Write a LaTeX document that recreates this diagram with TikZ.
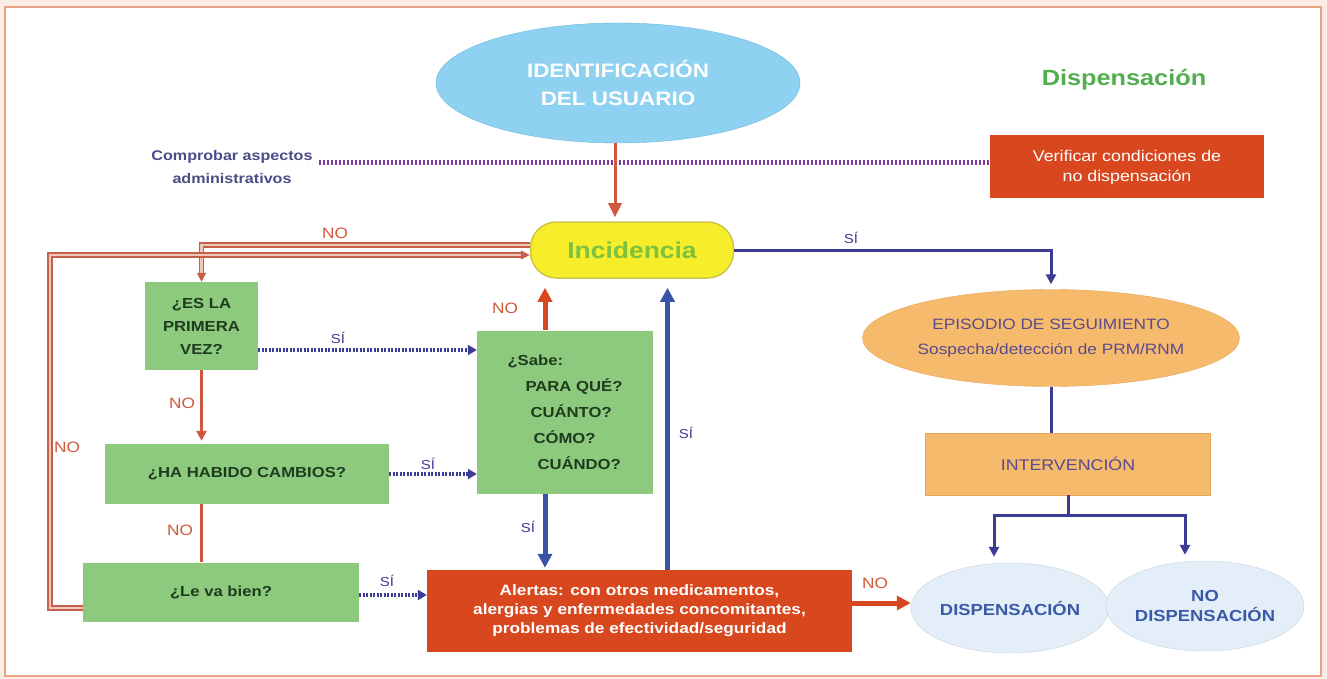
\documentclass[tikz,border=0pt]{standalone}
\usepackage{fontspec}
\setmainfont{Liberation Sans}[FakeStretch=1.15]
\usetikzlibrary{arrows.meta,shapes.geometric}

\definecolor{peach}{HTML}{FBEDE5}
\definecolor{frameor}{HTML}{E9A283}
\definecolor{skyid}{HTML}{8ED1F0}
\definecolor{skyidln}{HTML}{6DB5DD}
\definecolor{boxgreen}{HTML}{8DCA7E}
\definecolor{txtgreen}{HTML}{1E3B1E}
\definecolor{boxred}{HTML}{D9471F}
\definecolor{pillyel}{HTML}{F6EE2B}
\definecolor{pillln}{HTML}{CFC545}
\definecolor{titgreen}{HTML}{52AE4C}
\definecolor{incgreen}{HTML}{7DC23F}
\definecolor{boxorange}{HTML}{F6BA6C}
\definecolor{orln}{HTML}{E6A55C}
\definecolor{palesky}{HTML}{E3EEF8}
\definecolor{paleln}{HTML}{C3D4E6}
\definecolor{navy}{HTML}{3C3C96}
\definecolor{purpl}{HTML}{7D3A9C}
\definecolor{linered}{HTML}{D0583A}
\definecolor{loopred}{HTML}{C4604A}
\definecolor{loopfill}{HTML}{F2C6B8}
\definecolor{thickblue}{HTML}{3A52A8}
\definecolor{txtpurple}{HTML}{5A4A8E}
\definecolor{txtslate}{HTML}{4C4C88}
\definecolor{txtblue}{HTML}{3A5AA8}

\tikzset{
  greenbox/.style={rectangle, fill=boxgreen, text=txtgreen, inner sep=0pt,
    font=\fontsize{14.5}{23}\selectfont\bfseries, align=center},
  redbox/.style={rectangle, fill=boxred, text=white, inner sep=0pt, align=center},
  orbox/.style={rectangle, fill=boxorange, draw=orln, text=txtpurple, inner sep=0pt,
    font=\fontsize{15.5}{20}\selectfont},
  paleell/.style={ellipse, fill=palesky, draw=paleln, text=txtblue, inner sep=0pt,
    font=\fontsize{16}{20}\selectfont\bfseries, align=center},
  nolbl/.style={text=linered, font=\fontsize{15}{15}\selectfont},
  silbl/.style={text=navy, font=\fontsize{13}{13}\selectfont},
  dotarrow/.style={navy, line width=3.5pt, dash pattern=on 2pt off 1.5pt,
    -{Triangle[length=9pt,width=10pt]}},
  redline/.style={linered, line width=2.5pt},
  loopline/.style={draw=loopred, double=loopfill, double distance=2.5pt, line width=1.5pt},
  navyline/.style={navy, line width=3pt},
  thickarrow/.style={line width=5pt, -{Triangle[length=14pt,width=14pt]}}
}

\begin{document}
\begin{tikzpicture}[x=1pt,y=-1pt]
\useasboundingbox (0,0) rectangle (1327,679);

%Background and frame
\fill[peach] (0,0) rectangle (1327,679);
\draw[frameor, line width=2pt, fill=white] (5,7) rectangle (1321,676);

%Shape: Ellipse
\node[ellipse, fill=skyid, draw=skyidln, text=white, minimum width=364pt, minimum height=120pt,
  inner sep=0pt, align=center, font=\fontsize{19.5}{28}\selectfont\bfseries] (idusr) at (618,83)
  {IDENTIFICACIÓN\\DEL USUARIO};
% Text Node
\node[text=titgreen, font=\fontsize{22}{22}\selectfont\bfseries] (titulo) at (1124,80) {Dispensación};
% Text Node
\node[text=txtslate, align=center, inner sep=6pt, font=\fontsize{14}{23}\selectfont\bfseries] (comprobar) at (232,167)
  {Comprobar aspectos\\administrativos};
%Shape: Rectangle
\node[redbox, minimum width=274pt, minimum height=63pt, font=\fontsize{15.5}{20}\selectfont] (verif) at (1127,167)
  {Verificar condiciones de\\no dispensación};

%Shape: Rounded Rectangle
\node[rectangle, rounded corners=26pt, fill=pillyel, draw=pillln, line width=1.5pt, text=incgreen,
  minimum width=203pt, minimum height=56pt, inner sep=0pt, font=\fontsize{23}{23}\selectfont\bfseries]
  (incid) at (632,250) {Incidencia};

%Shape: Rectangle
\node[greenbox, minimum width=113pt, minimum height=88pt] (primera) at (201.5,326) {¿ES LA\\PRIMERA\\VEZ?};
%Shape: Rectangle
\node[greenbox, minimum width=284pt, minimum height=60pt] (cambios) at (247,474) {¿HA HABIDO CAMBIOS?};
%Shape: Rectangle
\node[greenbox, minimum width=276pt, minimum height=59pt] (bien) at (221,592) {¿Le va bien?};
%Shape: Rectangle
\node[greenbox, minimum width=176pt, minimum height=163pt, align=left,
  font=\fontsize{14.5}{26}\selectfont\bfseries] (sabe) at (565,412)
  {¿Sabe:\\\hspace*{18pt}PARA QUÉ?\\\hspace*{23pt}CUÁNTO?\\\hspace*{26pt}CÓMO?\\\hspace*{30pt}CUÁNDO?};
%Shape: Rectangle
\node[redbox, minimum width=425pt, minimum height=82pt, font=\fontsize{15}{19}\selectfont\bfseries] (alertas) at (639.5,611)
  {Alertas: con otros medicamentos,\\alergias y enfermedades concomitantes,\\problemas de efectividad/seguridad};

%Shape: Ellipse
\node[ellipse, fill=boxorange, draw=orln, text=txtpurple, minimum width=326pt, minimum height=97pt,
  inner sep=0pt, align=center, font=\fontsize{15}{25}\selectfont] (episodio) at (1051,338)
  {EPISODIO DE SEGUIMIENTO\\Sospecha/detección de PRM/RNM};
%Shape: Rectangle
\node[orbox, minimum width=285pt, minimum height=62pt] (interv) at (1068,464) {INTERVENCIÓN};
%Shape: Ellipse
\node[paleell, minimum width=190pt, minimum height=90pt] (dispn) at (1010,608) {DISPENSACIÓN};
%Shape: Ellipse
\node[paleell, minimum width=187pt, minimum height=90pt] (nodisp) at (1205,606) {NO\\DISPENSACIÓN};

%Straight Lines
\draw[purpl, line width=5pt, dash pattern=on 2.5pt off 1.5pt] ([yshift=4pt]comprobar.east) -- ([yshift=4pt]verif.west);
\draw[linered, line width=3pt, -{Triangle[length=14pt,width=13pt]}, shorten >=4pt]
  ([xshift=-3pt]idusr.south) -- ([xshift=-3pt]idusr.south |- incid.north);

%Straight Lines
\draw[navyline, -{Triangle[length=10pt,width=10pt]}, shorten >=5pt] (incid.east) -| (episodio.north);
\draw[navyline] (episodio.south) -- (episodio.south |- interv.north);
\draw[navyline] (interv.south) -- ++(0,20) coordinate (brnch);
\draw[navyline, -{Triangle[length=10pt,width=10pt]}, shorten >=6pt] (brnch) -| ([xshift=-16pt]dispn.north);
\draw[navyline, -{Triangle[length=10pt,width=10pt]}, shorten >=6pt] (brnch) -| ([xshift=-20pt]nodisp.north);

%Straight Lines
\draw[loopline, -{Triangle[length=9pt,width=9pt]}] ([yshift=5pt]incid.west) -| (primera.north);
\draw[loopline, -{Triangle[length=9pt,width=9pt]}] ([yshift=-16pt]bien.west) -- ++(-33,0) |- ([yshift=-5pt]incid.west);
\draw[redline, -{Triangle[length=10pt,width=10pt]}, shorten >=3pt] (primera.south) -- (primera.south |- cambios.north);
\draw[redline] (primera.south |- cambios.south) -- (primera.south |- bien.north);

%Straight Lines
\draw[dotarrow] ([yshift=-24pt]primera.east) -- ([yshift=-24pt]primera.east -| sabe.west);
\draw[dotarrow] (cambios.east) -- (cambios.east -| sabe.west);
\draw[dotarrow] ([yshift=-3pt]bien.east) -- ([yshift=-3pt]bien.east -| alertas.west);

%Straight Lines
\draw[thickarrow, boxred, shorten >=9pt] ([xshift=-20pt]sabe.north) -- ([xshift=-20pt]sabe.north |- incid.south);
\draw[thickarrow, thickblue, shorten >=9pt] ([xshift=28pt]alertas.north) -- ([xshift=28pt]alertas.north |- incid.south);
\draw[thickarrow, thickblue, shorten >=2pt] ([xshift=-20pt]sabe.south) -- ([xshift=-20pt]sabe.south |- alertas.north);
\draw[thickarrow, boxred] ([yshift=8pt]alertas.east) -- ([yshift=8pt]alertas.east -| dispn.west);

% Text Node
\node[nolbl] (no1) at (335,233) {NO};
\node[nolbl] (no2) at (182,403) {NO};
\node[nolbl] (no3) at (180,530) {NO};
\node[nolbl] (no4) at (67,447) {NO};
\node[nolbl] (no5) at (505,308) {NO};
\node[nolbl] (no6) at (875,583) {NO};
% Text Node
\node[silbl] (si1) at (851,238) {SÍ};
\node[silbl] (si2) at (338,338) {SÍ};
\node[silbl] (si3) at (428,464) {SÍ};
\node[silbl] (si4) at (387,581) {SÍ};
\node[silbl] (si5) at (528,527) {SÍ};
\node[silbl] (si6) at (686,433) {SÍ};
\end{tikzpicture}
\end{document}
